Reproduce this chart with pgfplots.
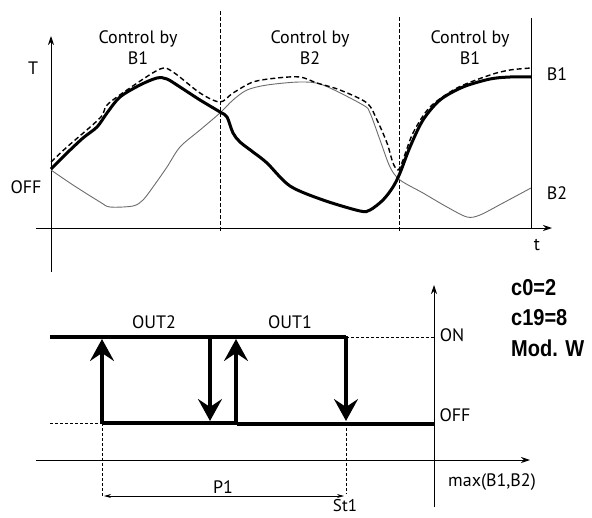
\documentclass[border=0pt]{standalone}
\usepackage{pgfplots}
\pgfplotsset{compat=1.18}
\usetikzlibrary{arrows.meta}
\usepackage{fontspec}
\setmainfont{PT Sans}
\newfontfamily\helv{Liberation Sans}
\begin{document}
\begin{tikzpicture}
\def\tf{\fontsize{18}{21}\selectfont}
\begin{axis}[name=ax, scale only axis, width=592pt, height=517pt,
  xmin=0, xmax=592, ymin=0, ymax=517, y dir=reverse, hide axis, clip=false]
% invisible frame
\addplot[draw=none] coordinates {(0,0) (592,517)};
% ---------- top chart ----------
% axes
\addplot[black, line width=0.9pt, -{Stealth[length=9pt,width=6pt]}] coordinates {(51,272) (51,36)};
\addplot[black, line width=0.9pt, -{Stealth[length=9pt,width=6pt]}] coordinates {(36,228) (552,228)};
\addplot[black, line width=1pt] coordinates {(531,18) (531,228)};
% dashed separators
\addplot[black, line width=1pt, dash pattern=on 4pt off 2pt] coordinates {(220,11) (220,232)};
\addplot[black, line width=1pt, dash pattern=on 4pt off 2pt] coordinates {(399,17) (399,232)};
% B2 thin gray
\addplot[gray!85!black, line width=0.9pt, smooth, tension=0.5] coordinates {
(51,170) (73,185) (100,202) (110,207) (133,206) (143,200) (153,187) (167,167) (180,147) (200,130) (220,113) (233,100) (247,90) (267,85) (300,82) (323,85) (363,105) (370,113) (380,140) (390,167) (400,180) (423,193) (447,207) (467,217) (480,215) (503,203) (531,188)};
% dashed max curve
\addplot[black, line width=1.4pt, dash pattern=on 5pt off 3pt, smooth, tension=0.5] coordinates {
(51,162) (67,147) (100,118) (107,105) (127,90) (160,69) (173,72) (200,93) (220,102) (233,93) (253,82) (277,78) (300,77) (317,83) (340,90) (367,103) (377,120) (387,143) (393,163) (398,170) (403,160) (413,133) (430,107) (457,88) (490,75) (510,70) (531,68)};
% B1 thick
\addplot[black, line width=3pt, smooth, tension=0.5] coordinates {
(51,169) (67,153) (83,138) (97,127) (107,113) (120,97) (140,85) (157,78) (167,79) (180,87) (200,100) (220,112) (227,117) (233,133) (240,142) (253,152) (267,163) (290,186) (323,200) (360,211) (370,210) (383,200) (393,187) (400,173) (410,147) (423,120) (440,100) (463,87) (490,79) (510,77) (531,77)};
% texts
\node[font=\tf, align=center, inner sep=0pt] at (axis cs:138,48) {Control by\\B1};
\node[font=\tf, align=center, inner sep=0pt] at (axis cs:310,48) {Control by\\B2};
\node[font=\tf, align=center, inner sep=0pt] at (axis cs:470,48) {Control by\\B1};
\node[font=\tf, inner sep=0pt] at (axis cs:33,68) {T};
\node[font=\tf, inner sep=0pt] at (axis cs:26,187) {OFF};
\node[font=\tf, inner sep=0pt] at (axis cs:557,74) {B1};
\node[font=\tf, inner sep=0pt] at (axis cs:557,193) {B2};
\node[font=\tf, inner sep=0pt] at (axis cs:537,245) {t};
% ---------- bottom chart ----------
% axes
\addplot[black, line width=0.9pt, -{Stealth[length=9pt,width=6pt]}] coordinates {(36,460) (530,460)};
\addplot[black, line width=0.9pt, -{Stealth[length=9pt,width=6pt]}] coordinates {(434,507) (434,285)};
% dashed guides
\addplot[black, line width=0.9pt, dash pattern=on 3pt off 2pt] coordinates {(50,423) (102,423)};
\addplot[black, line width=0.9pt, dash pattern=on 3pt off 2pt] coordinates {(102,423) (102,497)};
\addplot[black, line width=0.9pt, dash pattern=on 3pt off 2pt] coordinates {(346,337) (434,337)};
\addplot[black, line width=0.9pt, dash pattern=on 3pt off 2pt] coordinates {(346,423) (346,494)};
% P1 dimension arrow
\addplot[black, line width=0.8pt, {Stealth[length=7pt,width=4pt]}-{Stealth[length=7pt,width=4pt]}] coordinates {(104,496) (344,496)};
% ON / OFF levels
\addplot[black, line width=3.2pt] coordinates {(50,337) (346,337)};
\addplot[black, line width=3.2pt] coordinates {(102,423) (237,423)};
\addplot[black, line width=3.2pt] coordinates {(237,424) (434,424)};
% switching arrows
\addplot[black, line width=3.2pt, -{Stealth[length=22pt 0,width=24pt 0,inset=8pt 0]}] coordinates {(102,424) (102,339)};
\addplot[black, line width=3.2pt, -{Stealth[length=22pt 0,width=24pt 0,inset=8pt 0]}] coordinates {(210,336) (210,421)};
\addplot[black, line width=3.2pt, -{Stealth[length=22pt 0,width=24pt 0,inset=8pt 0]}] coordinates {(236,424) (236,339)};
\addplot[black, line width=3.2pt, -{Stealth[length=22pt 0,width=24pt 0,inset=8pt 0]}] coordinates {(346,336) (346,421)};
% texts
\node[font=\tf, inner sep=0pt] at (axis cs:154,322) {OUT2};
\node[font=\tf, inner sep=0pt] at (axis cs:290,322) {OUT1};
\node[font=\tf, inner sep=0pt] at (axis cs:452,335) {ON};
\node[font=\tf, inner sep=0pt] at (axis cs:455,415) {OFF};
\node[font=\tf, inner sep=0pt] at (axis cs:492,482) {max(B1,B2)};
\node[font=\tf, inner sep=0pt] at (axis cs:223,487) {P1};
\node[font=\fontsize{17}{20}\selectfont, inner sep=0pt] at (axis cs:345,506) {St1};
\node[font=\helv\bfseries\fontsize{20}{24}\selectfont, inner sep=0pt, anchor=west, yscale=1.15] at (axis cs:511,288) {c0=2};
\node[font=\helv\bfseries\fontsize{20}{24}\selectfont, inner sep=0pt, anchor=west, yscale=1.15] at (axis cs:511,318) {c19=8};
\node[font=\helv\bfseries\fontsize{20}{24}\selectfont, inner sep=0pt, anchor=west, yscale=1.15] at (axis cs:511,348) {Mod. W};
\end{axis}
\pgfresetboundingbox
\path (ax.south west) rectangle (ax.north east);
\end{tikzpicture}
\end{document}
